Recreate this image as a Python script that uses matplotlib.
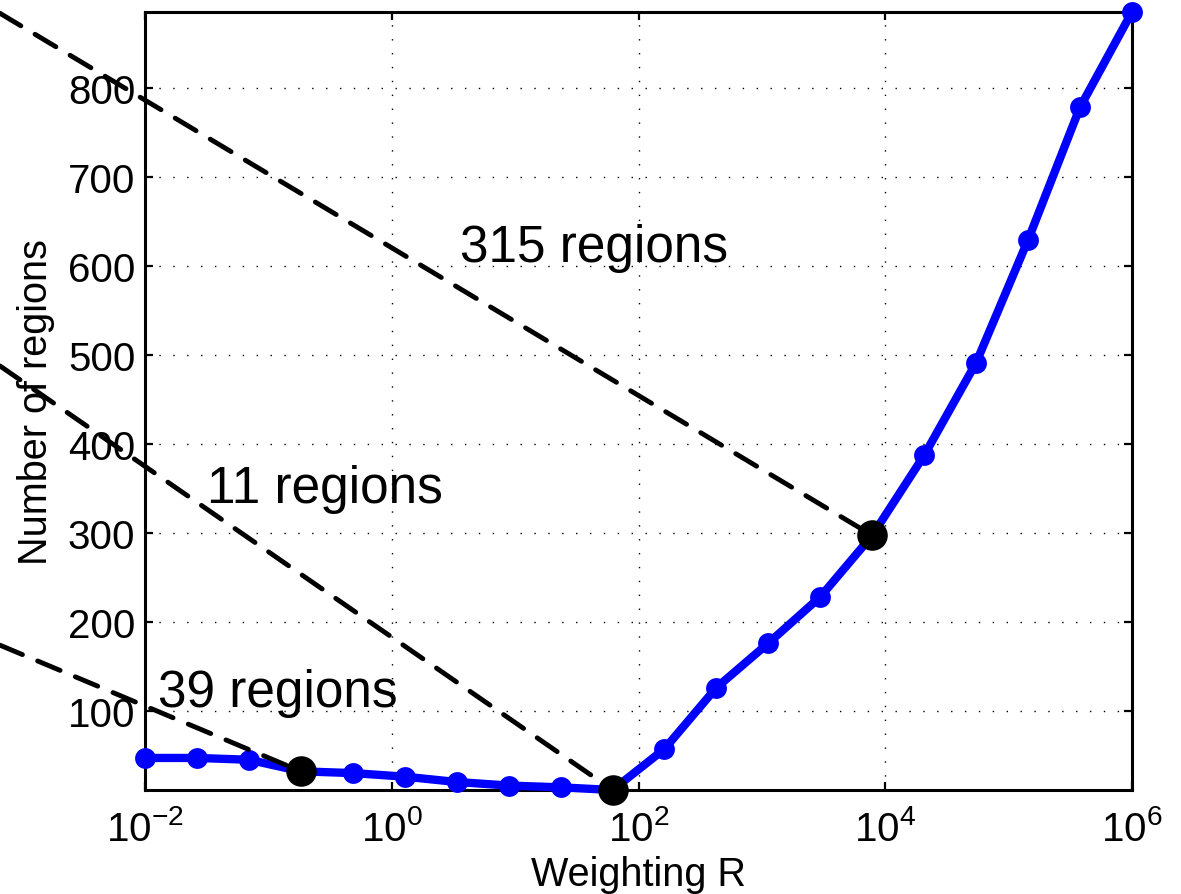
import matplotlib
matplotlib.use("Agg")
import matplotlib.pyplot as plt
from matplotlib.ticker import NullLocator, FixedLocator

plt.rcParams['font.family'] = ['Liberation Sans', 'DejaVu Sans']
plt.rcParams['mathtext.fontset'] = 'custom'
plt.rcParams['mathtext.rm'] = 'Liberation Sans'
plt.rcParams['mathtext.it'] = 'Liberation Sans:italic'
plt.rcParams['mathtext.default'] = 'regular'

# ---- data ----
weighting_r = [0.01, 0.0264, 0.0695, 0.183, 0.483, 1.27, 3.36, 8.86, 23.4, 61.6,
               162.0, 428.0, 1129.0, 2976.0, 7848.0, 20691.0, 54556.0, 143845.0,
               379269.0, 1000000.0]
num_regions = [47, 47, 45, 32, 30, 26, 20, 16, 14, 11,
               57, 126, 176, 228, 297, 387, 491, 629, 778, 885]
highlight_idx = [3, 9, 14]
highlight_labels = ["39 regions", "11 regions", "315 regions"]
xticks = [1e-2, 1e0, 1e2, 1e4, 1e6]
yticks = [100, 200, 300, 400, 500, 600, 700, 800]

fig = plt.figure(figsize=(11.81, 8.95), dpi=100)
ax = fig.add_axes([0.1228, 0.1162, 0.8357, 0.8693])

ax.set_xscale('log')
ax.set_xlim(min(weighting_r), max(weighting_r))
ax.set_ylim(min(num_regions), max(num_regions))

ax.xaxis.set_major_locator(FixedLocator(xticks))
ax.xaxis.set_minor_locator(NullLocator())
ax.set_yticks(yticks)

ax.grid(True, which='major', color='black', linewidth=1.0,
        linestyle=(0, (1, 9)))
ax.set_axisbelow(True)

# main curve
ax.plot(weighting_r, num_regions, color=(0, 0, 1), linewidth=6,
        marker='o', markersize=15, markeredgewidth=0, clip_on=False, zorder=3)

# callout dashed lines from highlighted points to left edge of figure
callout_ends = [(0.0, 0.278), (0.0, 0.590), (0.0, 0.984)]
for i, end in zip(highlight_idx, callout_ends):
    ax.annotate("", xy=(weighting_r[i], num_regions[i]), xycoords='data',
                xytext=end, textcoords='figure fraction',
                arrowprops=dict(arrowstyle='-', color='black', linewidth=3.5,
                                linestyle=(0, (5, 3.4)), shrinkA=0, shrinkB=0),
                annotation_clip=False, zorder=4)

# highlighted black points
ax.plot([weighting_r[i] for i in highlight_idx],
        [num_regions[i] for i in highlight_idx],
        linestyle='none', marker='o', markersize=22, color='black',
        markeredgewidth=0, clip_on=False, zorder=5)

# labels
label_pos = [(0.0132, 0.108), (0.0628, 0.370), (0.319, 0.680)]
for lab, (fx, fy) in zip(highlight_labels, label_pos):
    ax.text(fx, fy, lab, transform=ax.transAxes, fontsize=37,
            ha='left', va='baseline', zorder=6)

ax.set_xlabel("Weighting R", fontsize=28.5, labelpad=5)
ax.set_ylabel("Number of regions", fontsize=28.5, labelpad=9)

ax.tick_params(axis='both', which='major', direction='in', length=6,
               width=1.6, labelsize=29, top=True, right=True, color='black')
ax.tick_params(axis='x', pad=14)
ax.tick_params(axis='y', pad=7)
for sp in ax.spines.values():
    sp.set_linewidth(2.2)
    sp.set_color('black')

fig.savefig("out.png", dpi=100)
